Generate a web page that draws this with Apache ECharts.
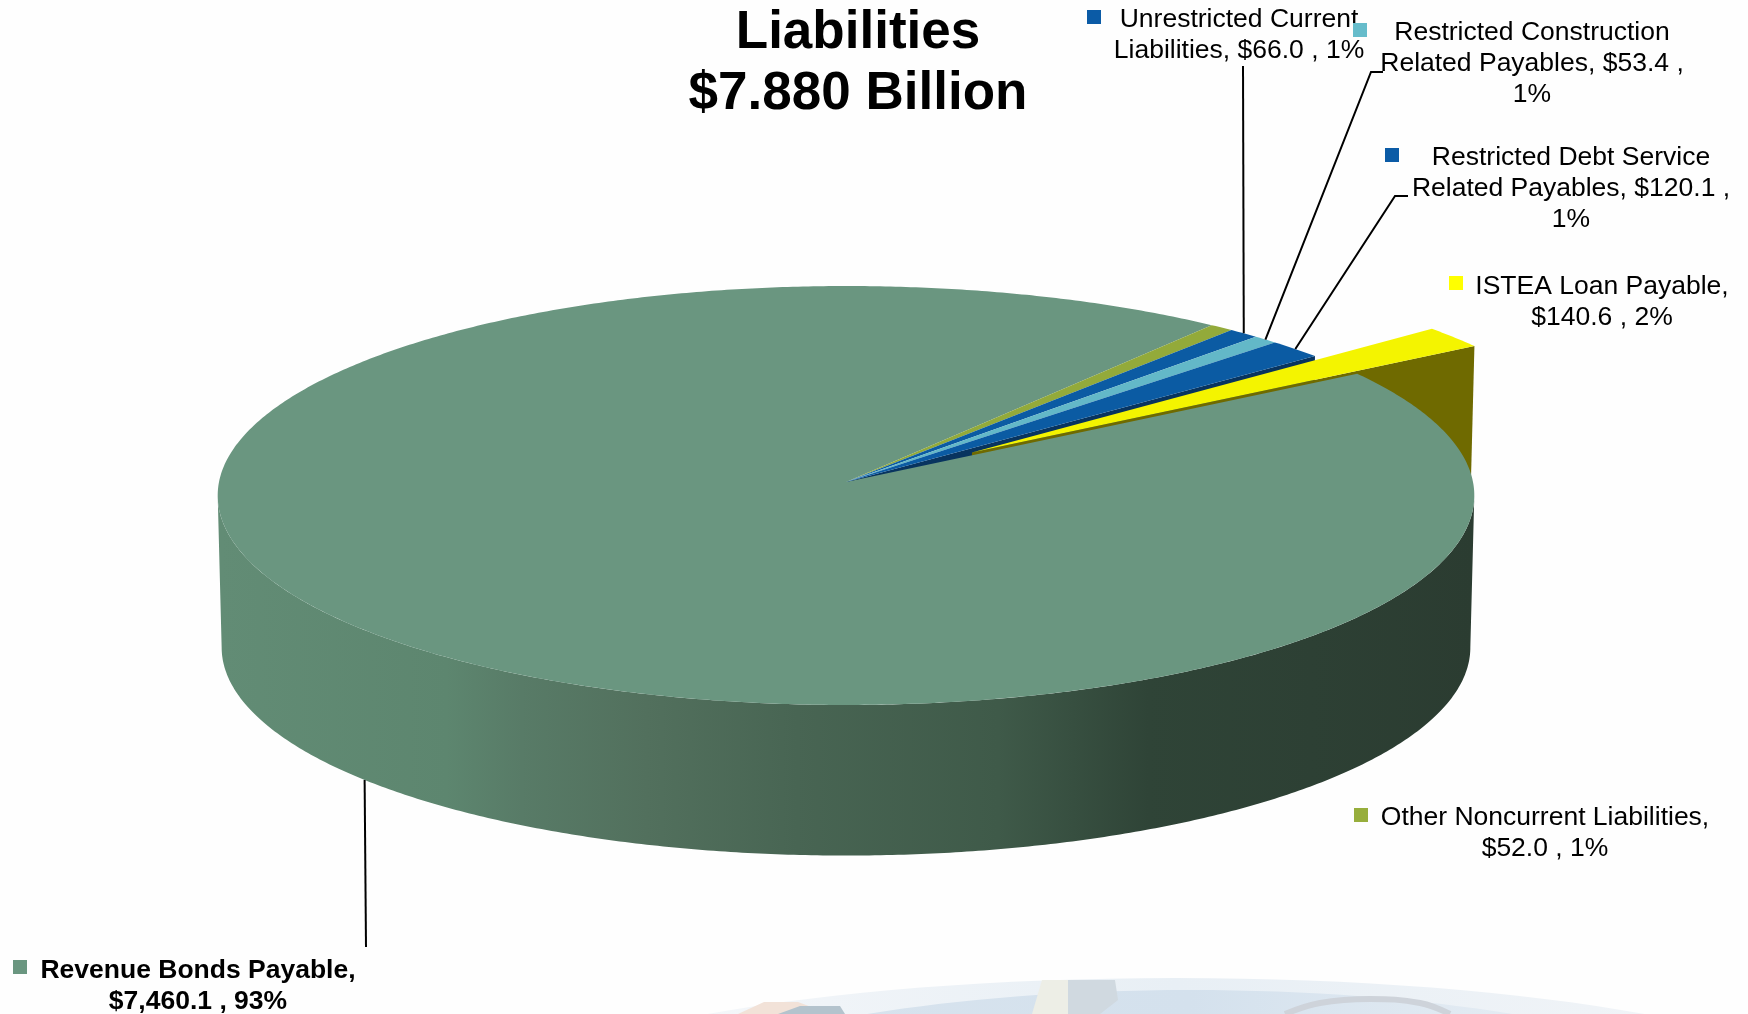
<!DOCTYPE html>
<html>
<head>
<meta charset="utf-8">
<title>Liabilities</title>
<style>html,body{margin:0;padding:0;background:#fefefe}#main{width:1748px;height:1014px}</style>
<script src="https://cdn.jsdelivr.net/npm/echarts@6/dist/echarts.min.js"></script>
</head>
<body>
<div id="main"></div>
<script>
// ---- data ------------------------------------------------------------
const chartTitle = 'Liabilities\n$7.880 Billion';
const categories = ['Revenue Bonds Payable', 'Other Noncurrent Liabilities', 'Unrestricted Current Liabilities',
  'Restricted Construction Related Payables', 'Restricted Debt Service Related Payables', 'ISTEA Loan Payable'];
const seriesValues = [7460.1, 52.0, 66.0, 53.4, 120.1, 140.6];
const percentLabels = ['93%', '1%', '1%', '1%', '1%', '2%'];
const topColors = ['#6a9680', '#93aa3a', '#0b5ba3', '#63b8c8', '#0b5ba3', '#f4f400'];
const keyColors = ['#6a9680', '#97ae3c', '#0b5ba6', '#66bccb', '#0b5ba6', '#ffff00'];
const labelLines = [
  ['Revenue Bonds Payable,', '$7,460.1 , 93%'],
  ['Other Noncurrent Liabilities,', '$52.0 , 1%'],
  ['Unrestricted Current', 'Liabilities, $66.0 , 1%'],
  ['Restricted Construction', 'Related Payables, $53.4 ,', '1%'],
  ['Restricted Debt Service', 'Related Payables, $120.1 ,', '1%'],
  ['ISTEA Loan Payable,', '$140.6 , 2%']
];

// ---- layout -----------------------------------------------------------
const FONT = '"Liberation Sans", Arial, sans-serif';
const pie = { cx: 846, cy: 482, A: 627, H: 208.6, k: 0.0644, depth: 152, shrink: 0.9937, firstSmallEdge: 52.2 };
const explodeOffset = [null, null, null, null, null, { u: 0.2027, v: 0.143 }];
const labelLayout = [
  { cx: 198, y0: 971, key: [13, 960] },
  { cx: 1545, y0: 818, key: [1354, 808] },
  { cx: 1239, y0: 20, key: [1087, 10] },
  { cx: 1532, y0: 33, key: [1353, 23] },
  { cx: 1571, y0: 158, key: [1385, 148] },
  { cx: 1602, y0: 287, key: [1449, 276] }
];
const leaderStart = [
  [[366, 947]], null, [[1243, 66]],
  [[1383, 72], [1371, 72]], [[1408, 196], [1395, 196]], null
];

// ---- geometry: value -> angle on the disc -> perspective projection ---
const total = seriesValues.reduce((a, b) => a + b, 0);
const sweeps = seriesValues.map(v => v / total * 360);
const ranges = [];
(function () {
  let a = pie.firstSmallEdge;
  for (let i = 1; i < sweeps.length; i++) { ranges[i] = [a, a - sweeps[i]]; a -= sweeps[i]; }
  ranges[0] = [a, a - sweeps[0]];
})();
function project(u, v, bottom) {
  const w = 1 + pie.k * v, s = bottom ? pie.shrink : 1;
  return [pie.cx + s * pie.A * u / w, pie.cy + (bottom ? pie.depth : 0) - s * pie.H * v / w];
}
function rim(deg, off, bottom) {
  const r = deg * Math.PI / 180;
  return project(Math.cos(r) + (off ? off.u : 0), Math.sin(r) + (off ? off.v : 0), bottom);
}
function hub(off, bottom) { return project(off ? off.u : 0, off ? off.v : 0, bottom); }
function arc(from, to, off, bottom) {
  const n = Math.max(2, Math.ceil(Math.abs(from - to) * 2)), pts = [];
  for (let i = 0; i <= n; i++) pts.push(rim(from + (to - from) * i / n, off, bottom));
  return pts;
}

const sideFill = new echarts.graphic.LinearGradient(221, 0, 1474, 0, [
  { offset: 0, color: '#628c75' }, { offset: 0.18, color: '#5d866f' }, { offset: 0.24, color: '#587b67' },
  { offset: 0.34, color: '#52705d' }, { offset: 0.46, color: '#486553' }, { offset: 0.62, color: '#3f5a49' },
  { offset: 0.74, color: '#2f4437' }, { offset: 1, color: '#2b3c31' }], true);

function renderSides(params) {
  const i = params.dataIndex, off = explodeOffset[i], r = ranges[i];
  if (i === 0) {
    // silhouette of the drum: the two tangent points of the projected rim
    const from = -Math.asin(pie.k) * 180 / Math.PI, to = -180 - from;
    const pts = arc(from, to, null, false).concat(arc(to, from, null, true));
    return { type: 'polygon', shape: { points: pts }, style: { fill: sideFill } };
  }
  if (i === 4 || i === 5) {
    const pts = [hub(off, false), rim(r[1], off, false), rim(r[1], off, true), hub(off, true)];
    return { type: 'polygon', shape: { points: pts }, style: { fill: i === 5 ? '#6f6a00' : '#08345f' } };
  }
  return null;
}
function renderTops(params) {
  const i = params.dataIndex, off = explodeOffset[i], r = ranges[i];
  const pts = [hub(off, false)].concat(arc(r[0], r[1], off, false));
  return { type: 'polygon', shape: { points: pts }, style: { fill: topColors[i] } };
}
function renderLabels(params) {
  const i = params.dataIndex, L = labelLayout[i], kids = [];
  kids.push({ type: 'rect', shape: { x: L.key[0], y: L.key[1], width: 14, height: 14 }, style: { fill: keyColors[i] } });
  labelLines[i].forEach((t, n) => kids.push({
    type: 'text',
    style: { text: t, x: L.cx, y: L.y0 + n * 30.8, align: 'center', verticalAlign: 'middle',
      font: (i === 0 ? 'bold ' : '') + '26.5px ' + FONT, fill: '#000' }
  }));
  if (leaderStart[i]) {
    const mid = (ranges[i][0] + ranges[i][1]) / 2;
    const end = rim(mid, null, i === 0);
    kids.push({ type: 'polyline', shape: { points: leaderStart[i].concat([end]) },
      style: { stroke: '#000', lineWidth: 2, fill: 'none' } });
  }
  return { type: 'group', children: kids };
}

const seriesData = seriesValues.map((v, i) => ({ name: categories[i], value: [v] }));
const chart = echarts.init(document.getElementById('main'), null, { width: 1748, height: 1014 });
chart.setOption({
  animation: false,
  backgroundColor: '#fefefe',
  title: {
    text: chartTitle, left: 858, top: 3, textAlign: 'center', padding: 0,
    textStyle: { fontFamily: FONT, fontSize: 53, fontWeight: 'bold', color: '#000', lineHeight: 61 }
  },
  graphic: { elements: [
    { type: 'ellipse', silent: true, z: -10, shape: { cx: 1176, cy: 1118, rx: 700, ry: 140 },
      style: { fill: new echarts.graphic.LinearGradient(0, 0, 1, 0, [
        { offset: 0, color: '#fbfcfd' }, { offset: 0.25, color: '#f0f4f8' }, { offset: 0.5, color: '#e8eff5' }, { offset: 0.8, color: '#eff3f7' }, { offset: 1, color: '#fbfcfd' }]) } },
    { type: 'ellipse', silent: true, z: -9, shape: { cx: 1190, cy: 1143, rx: 600, ry: 153 },
      style: { fill: new echarts.graphic.LinearGradient(0, 0, 1, 0, [
        { offset: 0, color: '#d9e4ee' }, { offset: 0.5, color: '#d4e1ed' }, { offset: 1, color: '#f0f4f8' }]) } },
    { type: 'polygon', silent: true, z: -8, shape: { points: [[738, 1014], [764, 1002], [798, 1002], [830, 1014]] }, style: { fill: '#f2e2d8' } },
    { type: 'polygon', silent: true, z: -8, shape: { points: [[778, 1014], [800, 1006], [840, 1006], [845, 1014]] }, style: { fill: '#b4c3cd' } },
    { type: 'polygon', silent: true, z: -8, shape: { points: [[1032, 1014], [1042, 980], [1068, 980], [1068, 1014]] }, style: { fill: '#edeee6' } },
    { type: 'polygon', silent: true, z: -8, shape: { points: [[1068, 980], [1115, 980], [1118, 1000], [1100, 1014], [1068, 1014]] }, style: { fill: '#d0d9e0' } },
    { type: 'polyline', silent: true, z: -8, shape: { points: [[1285, 1014], [1320, 1003], [1370, 999], [1420, 1003], [1450, 1014]], smooth: 0.4 },
      style: { stroke: '#ced3da', lineWidth: 6, fill: 'none' } }
  ] },
  series: [
    { type: 'custom', coordinateSystem: 'none', z: 2, silent: true, renderItem: renderSides, data: seriesData },
    { type: 'custom', coordinateSystem: 'none', z: 3, silent: true, renderItem: renderTops, data: seriesData },
    { type: 'custom', coordinateSystem: 'none', z: 4, silent: true, renderItem: renderLabels, data: seriesData }
  ]
});
</script>
</body>
</html>
